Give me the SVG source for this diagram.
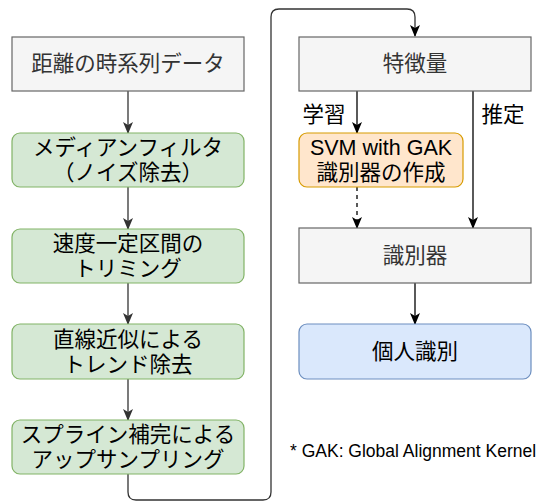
<svg xmlns="http://www.w3.org/2000/svg" width="541" height="502" viewBox="0 0 541 502">
<defs>
<marker id="ahk" viewBox="0 0 12 10" refX="11" refY="5" markerWidth="12" markerHeight="10" markerUnits="userSpaceOnUse" orient="auto">
<path d="M0,0 L12,5 L0,10 L3,5 Z" fill="#000"/>
</marker>
<marker id="ahg" viewBox="0 0 12 10" refX="11" refY="5" markerWidth="12" markerHeight="10" markerUnits="userSpaceOnUse" orient="auto">
<path d="M0,0 L12,5 L0,10 L3,5 Z" fill="#333"/>
</marker>
</defs>
<style>
.t{font-family:"Liberation Sans","Noto Sans CJK JP",sans-serif;font-size:21.5px;text-anchor:middle;dominant-baseline:central}
.gray{fill:#f5f5f5;stroke:#666;stroke-width:1.2}
.green{fill:#d5e8d4;stroke:#82b366;stroke-width:1.2}
.orange{fill:#ffe6cc;stroke:#d79b00;stroke-width:1.2}
.blue{fill:#dae8fc;stroke:#6c8ebf;stroke-width:1.2}
.cg{fill:none;stroke:#333;stroke-width:1.3;marker-end:url(#ahg)}
.ck{fill:none;stroke:#000;stroke-width:1.3;marker-end:url(#ahk)}
.dash{stroke-dasharray:4 4}
.note{font-family:"Liberation Sans",sans-serif;font-size:17.5px}
</style>
<rect width="541" height="502" fill="#fff"/>
<g id="connectors">
<path class="cg" d="M128,91 V133"/>
<path class="cg" d="M128,187 V229"/>
<path class="cg" d="M128,283 V324"/>
<path class="cg" d="M128,379 V420"/>
<path fill="none" stroke="#333" stroke-width="1.3" d="M128,474 V492 Q128,500 136,500 H263 Q271,500 271,492 V17 Q271,9 279,9 H407 Q415,9 415,17 V36" marker-end="url(#ahk)"/>
<path class="ck" d="M357,91 V133"/>
<path class="ck" d="M473,91 V228"/>
<path class="ck dash" d="M357,187 V228"/>
<path class="ck" d="M415,283 V324"/>
</g>
<g id="n1"><rect class="gray" x="12" y="37" width="232" height="54"/><text class="t" x="128" y="64" fill="#333">距離の時系列データ</text></g>
<g id="n2"><rect class="green" x="12" y="133" width="232" height="54" rx="8"/><text class="t" x="128" y="148">メディアンフィルタ</text><text class="t" x="128" y="173">（ノイズ除去）</text></g>
<g id="n3"><rect class="green" x="12" y="229" width="232" height="54" rx="8"/><text class="t" x="128" y="244">速度一定区間の</text><text class="t" x="128" y="269">トリミング</text></g>
<g id="n4"><rect class="green" x="12" y="324" width="232" height="55" rx="8"/><text class="t" x="128" y="339.5">直線近似による</text><text class="t" x="128" y="364.5">トレンド除去</text></g>
<g id="n5"><rect class="green" x="12" y="420" width="232" height="54" rx="8"/><text class="t" x="128" y="435">スプライン補完による</text><text class="t" x="128" y="460">アップサンプリング</text></g>
<g id="n6"><rect class="gray" x="299" y="37" width="232" height="54"/><text class="t" x="415" y="64" fill="#333">特徴量</text></g>
<g id="n7"><rect class="orange" x="299" y="133" width="164" height="54" rx="8"/><text class="t" x="381" y="148">SVM with GAK</text><text class="t" x="381" y="173">識別器の作成</text></g>
<g id="n8"><rect class="gray" x="299" y="228" width="232" height="55"/><text class="t" x="415" y="255.5" fill="#333">識別器</text></g>
<g id="n9"><rect class="blue" x="299" y="324" width="232" height="55" rx="8"/><text class="t" x="415" y="351.5">個人識別</text></g>
<g id="labels">
<text class="t" x="324" y="115">学習</text>
<text class="t" x="503" y="115">推定</text>
<text class="note" x="290" y="457">* GAK: Global Alignment Kernel</text>
</g>
</svg>
